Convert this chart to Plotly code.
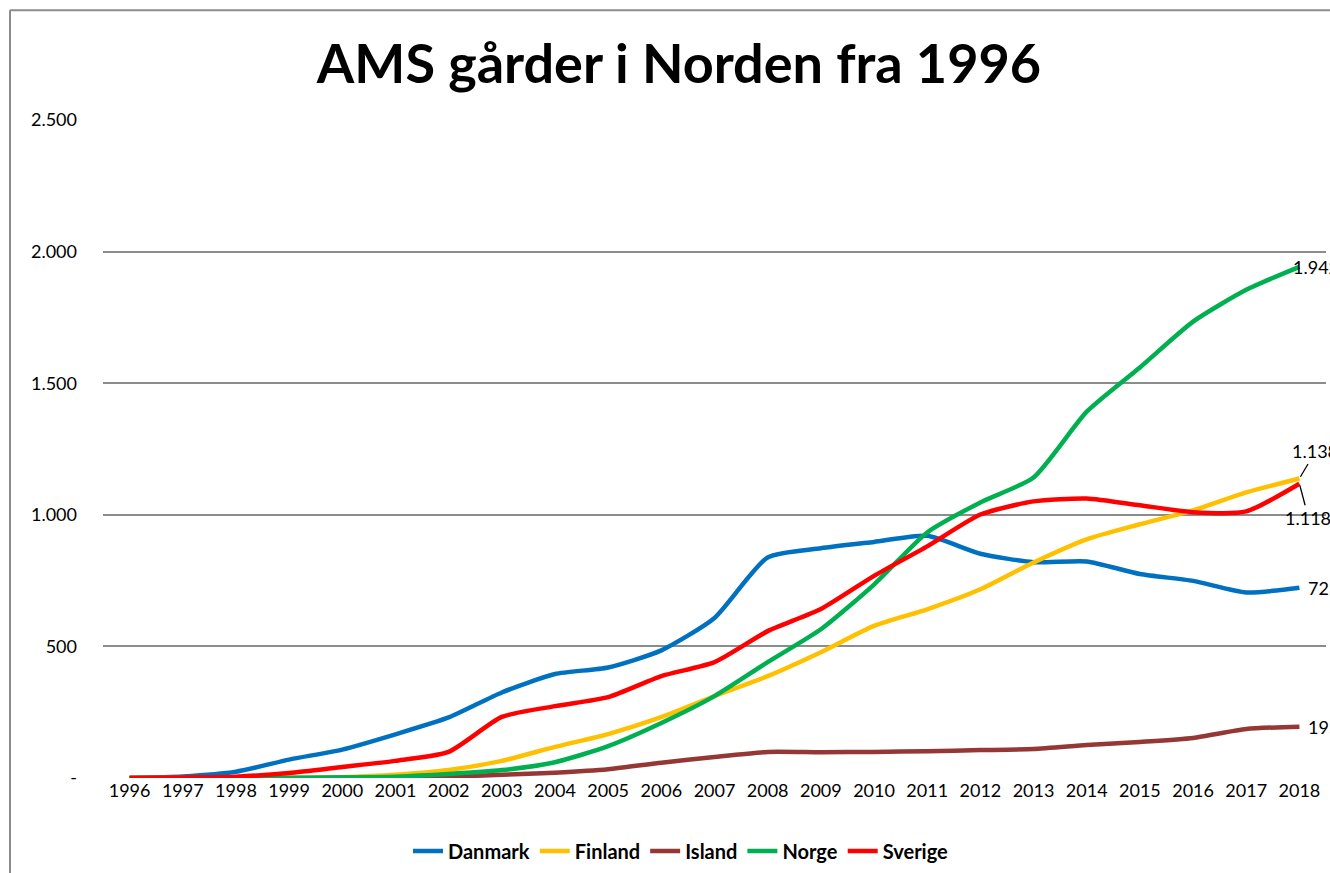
import plotly.graph_objects as go

years = list(range(1996, 2019))

danmark = [0, 6, 24, 70, 108, 166, 230, 325, 395, 420, 485, 608, 838, 873, 897, 920, 852, 820, 823, 775, 749, 705, 723]
finland = [0, 0, 0, 1, 3, 12, 30, 65, 118, 167, 231, 311, 387, 478, 578, 641, 717, 819, 907, 964, 1017, 1085, 1138]
island  = [0, 0, 0, 0, 1, 2, 5, 12, 20, 33, 58, 80, 99, 98, 99, 102, 106, 110, 125, 137, 152, 186, 195]
norge   = [0, 0, 0, 0, 2, 5, 15, 30, 60, 121, 209, 311, 440, 565, 735, 933, 1047, 1142, 1392, 1560, 1734, 1855, 1942]
sverige = [0, 2, 5, 19, 42, 65, 99, 232, 273, 307, 387, 440, 558, 642, 768, 880, 1001, 1051, 1062, 1036, 1010, 1013, 1118]

series_names = ["Danmark", "Finland", "Island", "Norge", "Sverige"]
series_values = [danmark, finland, island, norge, sverige]
colors = ["#0070C0", "#FFC000", "#953735", "#00B050", "#FF0000"]

y_tickvals = [0, 500, 1000, 1500, 2000, 2500]
y_ticktext = ["-", "500", "1.000", "1.500", "2.000", "2.500"]

FONT = "Lato"

def fmt(v):
    return f"{v:,}".replace(",", ".")

fig = go.Figure()
for name, vals, col in zip(series_names, series_values, colors):
    fig.add_trace(go.Scatter(
        x=years, y=vals, name=name, mode="lines",
        line=dict(color=col, width=4.5, shape="spline", smoothing=0.6),
    ))

# end-point data labels
label_cfg = {
    "Norge":   dict(arrow=False, xshift=-8),
    "Finland": dict(arrow=True, ax=16, ay=-27),
    "Sverige": dict(arrow=True, ax=9, ay=34),
    "Danmark": dict(arrow=False, xshift=7),
    "Island":  dict(arrow=False, xshift=7),
}
for name, vals in zip(series_names, series_values):
    cfg = label_cfg[name]
    if cfg["arrow"]:
        fig.add_annotation(
            x=years[-1], y=vals[-1], text=fmt(vals[-1]), showarrow=True,
            arrowhead=0, arrowwidth=1.3, arrowcolor="#000000",
            ax=cfg["ax"], ay=cfg["ay"], xanchor="center", yanchor="middle",
            font=dict(family=FONT, size=18, color="#000000"), standoff=2,
        )
    else:
        fig.add_annotation(
            x=years[-1], y=vals[-1], text=fmt(vals[-1]), showarrow=False,
            xanchor="left", yanchor="middle", xshift=cfg["xshift"],
            font=dict(family=FONT, size=18, color="#000000"),
        )

fig.update_layout(
    width=1330, height=873,
    margin=dict(l=103, r=4, t=120, b=94),
    paper_bgcolor="white", plot_bgcolor="white",
    title=dict(text="<b>AMS gårder i Norden fra 1996</b>", xref="paper", x=(679 - 103) / 1223,
               xanchor="center", y=1 - 64/873, yanchor="middle",
               font=dict(family=FONT, size=54, color="#000000")),
    font=dict(family=FONT, color="#000000"),
    showlegend=True,
    legend=dict(orientation="h", x=(681 - 103) / 1223, xanchor="center", y=-72/659, yanchor="middle",
                font=dict(family=FONT, size=20, color="#000000", weight="bold"),
                traceorder="normal", tracegroupgap=0),
    xaxis=dict(range=[1995.5, 2018.5], tickvals=years, ticktext=[str(y) for y in years],
               showgrid=False, zeroline=False, showline=False, ticks="",
               tickfont=dict(family=FONT, size=18, color="#000000")),
    yaxis=dict(range=[0, 2500], tickvals=y_tickvals, ticktext=y_ticktext,
               showgrid=True, gridcolor="#8c8c8c", gridwidth=1.5, zeroline=False,
               showline=False, ticks="", ticklabelstandoff=25,
               tickfont=dict(family=FONT, size=18, color="#000000")),
    shapes=[
        dict(type="line", xref="paper", yref="paper", x0=-93/1223, x1=1.1, y0=1 + 110/659, y1=1 + 110/659,
             line=dict(color="#8c8c8c", width=2)),
        dict(type="line", xref="paper", yref="paper", x0=-93/1223, x1=-93/1223, y0=-0.2, y1=1 + 110/659,
             line=dict(color="#8c8c8c", width=2)),
    ],
)

fig.write_html("out.html", config={"displayModeBar": False},
               post_script="document.body.style.margin='0';document.body.style.overflow='hidden';")
